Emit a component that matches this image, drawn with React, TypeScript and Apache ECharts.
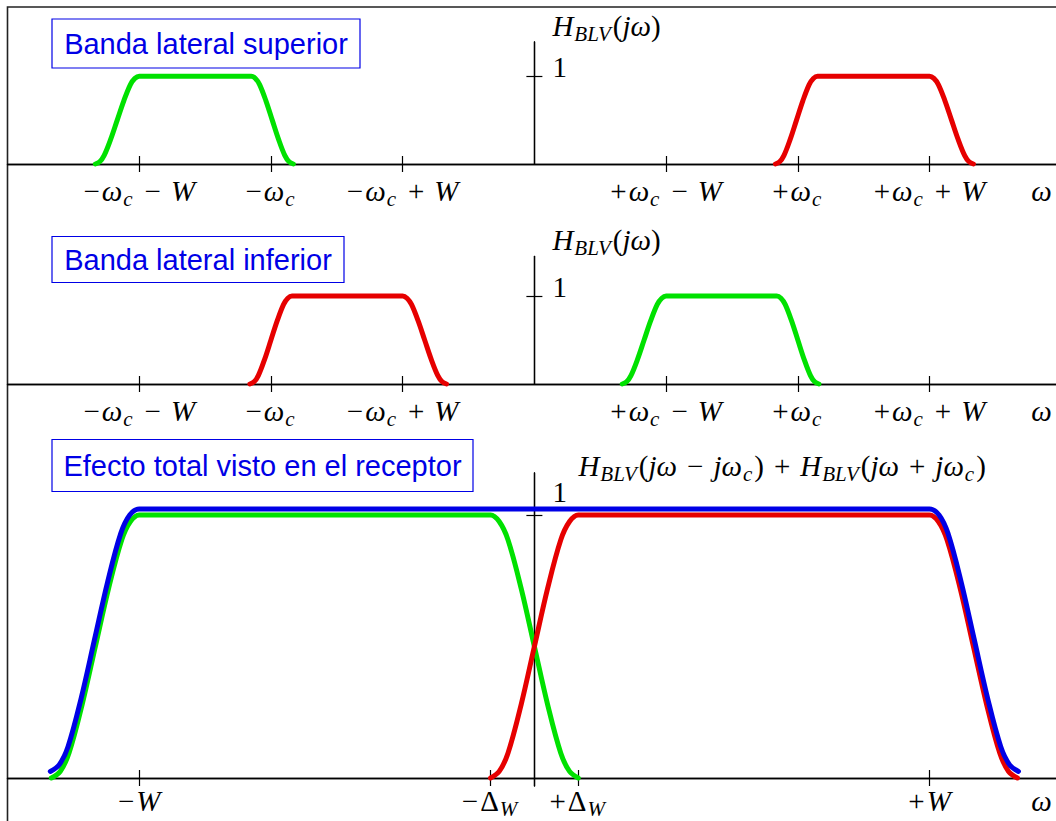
import React, { useEffect, useRef } from 'react';
import * as echarts from 'echarts';

// ---------- tick values and labels ----------
const sideTickValues = [-3, -2, -1, 1, 2, 3];
const sideLabelValues = [-3, -2, -1, 1, 2, 3, 3.85];
const sideLabels = [
  '{u|−}{i|ω}{s|c}{o|−}{i|W}',
  '{u|−}{i|ω}{s|c}',
  '{u|−}{i|ω}{s|c}{o|+}{i|W}',
  '{u|+}{i|ω}{s|c}{o|−}{i|W}',
  '{u|+}{i|ω}{s|c}',
  '{u|+}{i|ω}{s|c}{o|+}{i|W}',
  '{i|ω}',
];
const totalTickValues = [-3, -0.333, 0.333, 3];
const totalLabelValues = [-3, -0.333, 0.333, 3, 3.85];
const totalLabels = [
  '{u|−}{i|W}',
  '{u|−}{m|Δ}{s|W}',
  '{u|+}{m|Δ}{s|W}',
  '{u|+}{i|W}',
  '{i|ω}',
];
const yTickValues = [1];
const yTickLabels = ['1'];

const panelNames = [
  '{i|H}{s|BLV}{m|(}{i|jω}{m|)}',
  '{i|H}{s|BLV}{m|(}{i|jω}{m|)}',
  '{i|H}{s|BLV}{m|(}{i|jω}{o|−}{i|jω}{s|c}{m|)}{o|+}{i|H}{s|BLV}{m|(}{i|jω}{o|+}{i|jω}{s|c}{m|)}',
];
const panelTitles = ['Banda lateral superior', 'Banda lateral inferior', 'Efecto total visto en el receptor'];

// ---------- series values (x in axis units, y = gain) ----------
const upperGreen = [
  [-3.333, 0], [-3.3, 0.025], [-3.267, 0.095], [-3.217, 0.28], [-3.167, 0.5], [-3.117, 0.72], [-3.067, 0.905], [-3.033, 0.975], [-3.0, 1],
  [-2.15, 1], [-2.118, 0.975], [-2.086, 0.905], [-2.038, 0.72], [-1.99, 0.5], [-1.942, 0.28], [-1.894, 0.095], [-1.862, 0.025], [-1.83, 0],
];
const upperRed = [
  [1.83, 0], [1.862, 0.025], [1.894, 0.095], [1.942, 0.28], [1.99, 0.5], [2.038, 0.72], [2.086, 0.905], [2.118, 0.975], [2.15, 1],
  [3.0, 1], [3.033, 0.975], [3.067, 0.905], [3.117, 0.72], [3.167, 0.5], [3.217, 0.28], [3.267, 0.095], [3.3, 0.025], [3.333, 0],
];
const lowerRed = [
  [-2.16, 0], [-2.128, 0.025], [-2.096, 0.095], [-2.048, 0.28], [-2.0, 0.5], [-1.952, 0.72], [-1.904, 0.905], [-1.872, 0.975], [-1.84, 1],
  [-1.0, 1], [-0.967, 0.975], [-0.933, 0.905], [-0.883, 0.72], [-0.833, 0.5], [-0.783, 0.28], [-0.733, 0.095], [-0.7, 0.025], [-0.667, 0],
];
const lowerGreen = [
  [0.667, 0], [0.7, 0.025], [0.733, 0.095], [0.783, 0.28], [0.833, 0.5], [0.883, 0.72], [0.933, 0.905], [0.967, 0.975], [1.0, 1],
  [1.84, 1], [1.872, 0.975], [1.904, 0.905], [1.952, 0.72], [2.0, 0.5], [2.048, 0.28], [2.096, 0.095], [2.128, 0.025], [2.16, 0],
];
const totalGreen = [
  [-3.667, 0], [-3.6, 0.025], [-3.533, 0.095], [-3.433, 0.28], [-3.333, 0.5], [-3.233, 0.72], [-3.133, 0.905], [-3.067, 0.975], [-3.0, 1],
  [-0.333, 1], [-0.267, 0.975], [-0.2, 0.905], [-0.1, 0.72], [0, 0.5], [0.1, 0.28], [0.2, 0.095], [0.267, 0.025], [0.333, 0],
];
const totalRed = [
  [-0.333, 0], [-0.267, 0.025], [-0.2, 0.095], [-0.1, 0.28], [0, 0.5], [0.1, 0.72], [0.2, 0.905], [0.267, 0.975], [0.333, 1],
  [3.0, 1], [3.067, 0.975], [3.133, 0.905], [3.233, 0.72], [3.333, 0.5], [3.433, 0.28], [3.533, 0.095], [3.6, 0.025], [3.667, 0],
];
const totalBlue = [
  [-3.675, 0.025], [-3.608, 0.05], [-3.54, 0.12], [-3.44, 0.305], [-3.34, 0.525], [-3.24, 0.745], [-3.14, 0.93], [-3.072, 1.0], [-3.0, 1.023],
  [3.0, 1.023], [3.072, 1.0], [3.14, 0.93], [3.24, 0.745], [3.34, 0.525], [3.44, 0.305], [3.54, 0.12], [3.608, 0.05], [3.675, 0.025],
];

const GREEN = '#00e100';
const RED = '#e60000';
const BLUE = '#0000e6';
const MATH = 'Liberation Serif';
const FS = 29;
const SFS = 21;

const rich: any = {
  m: { fontFamily: MATH, fontSize: FS, lineHeight: FS, color: '#000', verticalAlign: 'top' },
  u: { fontFamily: MATH, fontSize: FS, lineHeight: FS, color: '#000', verticalAlign: 'top', padding: [0, 2, 0, 0] },
  i: { fontFamily: MATH, fontSize: FS, lineHeight: FS, color: '#000', verticalAlign: 'top', fontStyle: 'italic' },
  s: { fontFamily: MATH, fontSize: SFS, lineHeight: SFS, color: '#000', verticalAlign: 'top', fontStyle: 'italic', padding: [12, 2, 0, 1] },
  o: { fontFamily: MATH, fontSize: FS, lineHeight: FS, color: '#000', verticalAlign: 'top', padding: [0, 10, 0, 10] },
};

function lookup(values: number[], labels: string[]) {
  return (v: number) => {
    for (let i = 0; i < values.length; i++) if (Math.abs(values[i] - v) < 1e-6) return labels[i];
    return '';
  };
}

const AXIS_COLOR = '#000';
const X_MIN = -4;
const X_MAX = 3.96;
const GRID_LEFT = 7.5;
const CHART_W = 1056;
// pixel distance from grid's left edge to x = 0 (axis units -> px through the same linear scale ECharts uses)
const Y_AXIS_SHIFT = ((0 - X_MIN) / (X_MAX - X_MIN)) * (CHART_W - GRID_LEFT);

function buildPanel(
  g: number,
  yMin: number,
  yMax: number,
  tickVals: number[],
  labelVals: number[],
  labels: string[],
  name: string,
  namePadLeft: number,
  nameGap: number,
  oneLift: number,
  labelMargin: number,
) {
  const lineStyle = { color: AXIS_COLOR, width: 1.3 };
  const tickStyle = { color: AXIS_COLOR, width: 1.2 };
  const xA = {
    gridIndex: g, type: 'value', min: X_MIN, max: X_MAX, position: 'bottom',
    axisLine: { show: true, onZero: true, lineStyle },
    axisTick: { show: true, customValues: tickVals, length: 8, inside: false, lineStyle: tickStyle },
    axisLabel: { show: true, customValues: labelVals, formatter: lookup(labelVals, labels), margin: labelMargin, rich },
    splitLine: { show: false },
  };
  const xB = {
    gridIndex: g, type: 'value', min: X_MIN, max: X_MAX, position: 'top',
    axisLine: { show: true, onZero: true, lineStyle },
    axisTick: { show: true, customValues: tickVals, length: 8, inside: false, lineStyle: tickStyle },
    axisLabel: { show: false },
    splitLine: { show: false },
  };
  const yA = {
    gridIndex: g, type: 'value', min: yMin, max: yMax, position: 'left', offset: -Y_AXIS_SHIFT,
    axisLine: { show: true, onZero: false, lineStyle },
    axisTick: { show: true, customValues: yTickValues, length: 8, inside: false, lineStyle: tickStyle },
    axisLabel: {
      show: true, customValues: yTickValues, formatter: lookup(yTickValues, yTickLabels), inside: true, margin: 18,
      fontFamily: MATH, fontSize: FS, color: '#000', verticalAlign: 'bottom', lineHeight: oneLift * 2,
    },
    splitLine: { show: false },
    name, nameLocation: 'end', nameGap,
    nameTextStyle: { align: 'left', verticalAlign: 'bottom', padding: [0, 0, 0, namePadLeft], rich },
  };
  const yB = {
    gridIndex: g, type: 'value', min: yMin, max: yMax, position: 'left', offset: -Y_AXIS_SHIFT,
    axisLine: { show: true, onZero: false, lineStyle },
    axisTick: { show: true, customValues: yTickValues, length: 8, inside: true, lineStyle: tickStyle },
    axisLabel: { show: false },
    splitLine: { show: false },
  };
  return { x: [xA, xB], y: [yA, yB] };
}

function lineSeries(data: number[][], color: string, axisIdx: number) {
  return {
    type: 'line', data, xAxisIndex: axisIdx, yAxisIndex: axisIdx,
    smooth: 0.35, showSymbol: false, symbol: 'none', clip: false, silent: true,
    lineStyle: { color, width: 5, cap: 'round', join: 'round' },
  };
}

function titleBox(x: number, y: number, w: number, h: number, text: string) {
  return {
    type: 'group', silent: true,
    children: [
      { type: 'rect', shape: { x, y, width: w, height: h }, style: { fill: '#fff', stroke: BLUE, lineWidth: 1.2 } },
      {
        type: 'text', x: x + w / 2, y: y + h / 2,
        style: { text, fontFamily: 'Liberation Sans', fontSize: 29, fill: BLUE, align: 'center', verticalAlign: 'middle' },
      },
    ],
  };
}

export default function App() {
  const ref = useRef<HTMLDivElement>(null);
  useEffect(() => {
    if (!ref.current) return;
    const chart = echarts.init(ref.current, undefined, { renderer: 'svg' });
    const p0 = buildPanel(0, 0, 1.39, sideTickValues, sideLabelValues, sideLabels, panelNames[0], 18, 2, 9, 12);
    const p1 = buildPanel(1, 0, 1.45, sideTickValues, sideLabelValues, sideLabels, panelNames[1], 18, 2, 9, 12);
    const p2 = buildPanel(2, -0.03, 1.16, totalTickValues, totalLabelValues, totalLabels, panelNames[2], 44, -8, 23, 1);
    const option: any = {
      animation: false,
      backgroundColor: '#fff',
      grid: [
        { left: GRID_LEFT, right: 0, top: 42, height: 122, containLabel: false, outerBoundsMode: 'none' },
        { left: GRID_LEFT, right: 0, top: 256.4, height: 127.6, containLabel: false, outerBoundsMode: 'none' },
        { left: GRID_LEFT, right: 0, top: 472.9, height: 313, containLabel: false, outerBoundsMode: 'none' },
      ],
      xAxis: [...p0.x, ...p1.x, ...p2.x],
      yAxis: [...p0.y, ...p1.y, ...p2.y],
      series: [
        lineSeries(upperGreen, GREEN, 0),
        lineSeries(upperRed, RED, 0),
        lineSeries(lowerRed, RED, 2),
        lineSeries(lowerGreen, GREEN, 2),
        lineSeries(totalGreen, GREEN, 4),
        lineSeries(totalRed, RED, 4),
        lineSeries(totalBlue, BLUE, 4),
      ],
      graphic: [
        {
          type: 'rect', silent: true, z: -1,
          shape: { x: 7.5, y: 7, width: 1100, height: 900 },
          style: { fill: 'none', stroke: '#222', lineWidth: 1.6 },
        },
        titleBox(52, 19, 308, 49, panelTitles[0]),
        titleBox(52, 236.5, 292, 46, panelTitles[1]),
        titleBox(52, 439.5, 421, 52, panelTitles[2]),
      ],
    };
    chart.setOption(option);
    return () => chart.dispose();
  }, []);
  return <div ref={ref} style={{ position: 'absolute', left: 0, top: 0, width: 1056, height: 821 }} />;
}
